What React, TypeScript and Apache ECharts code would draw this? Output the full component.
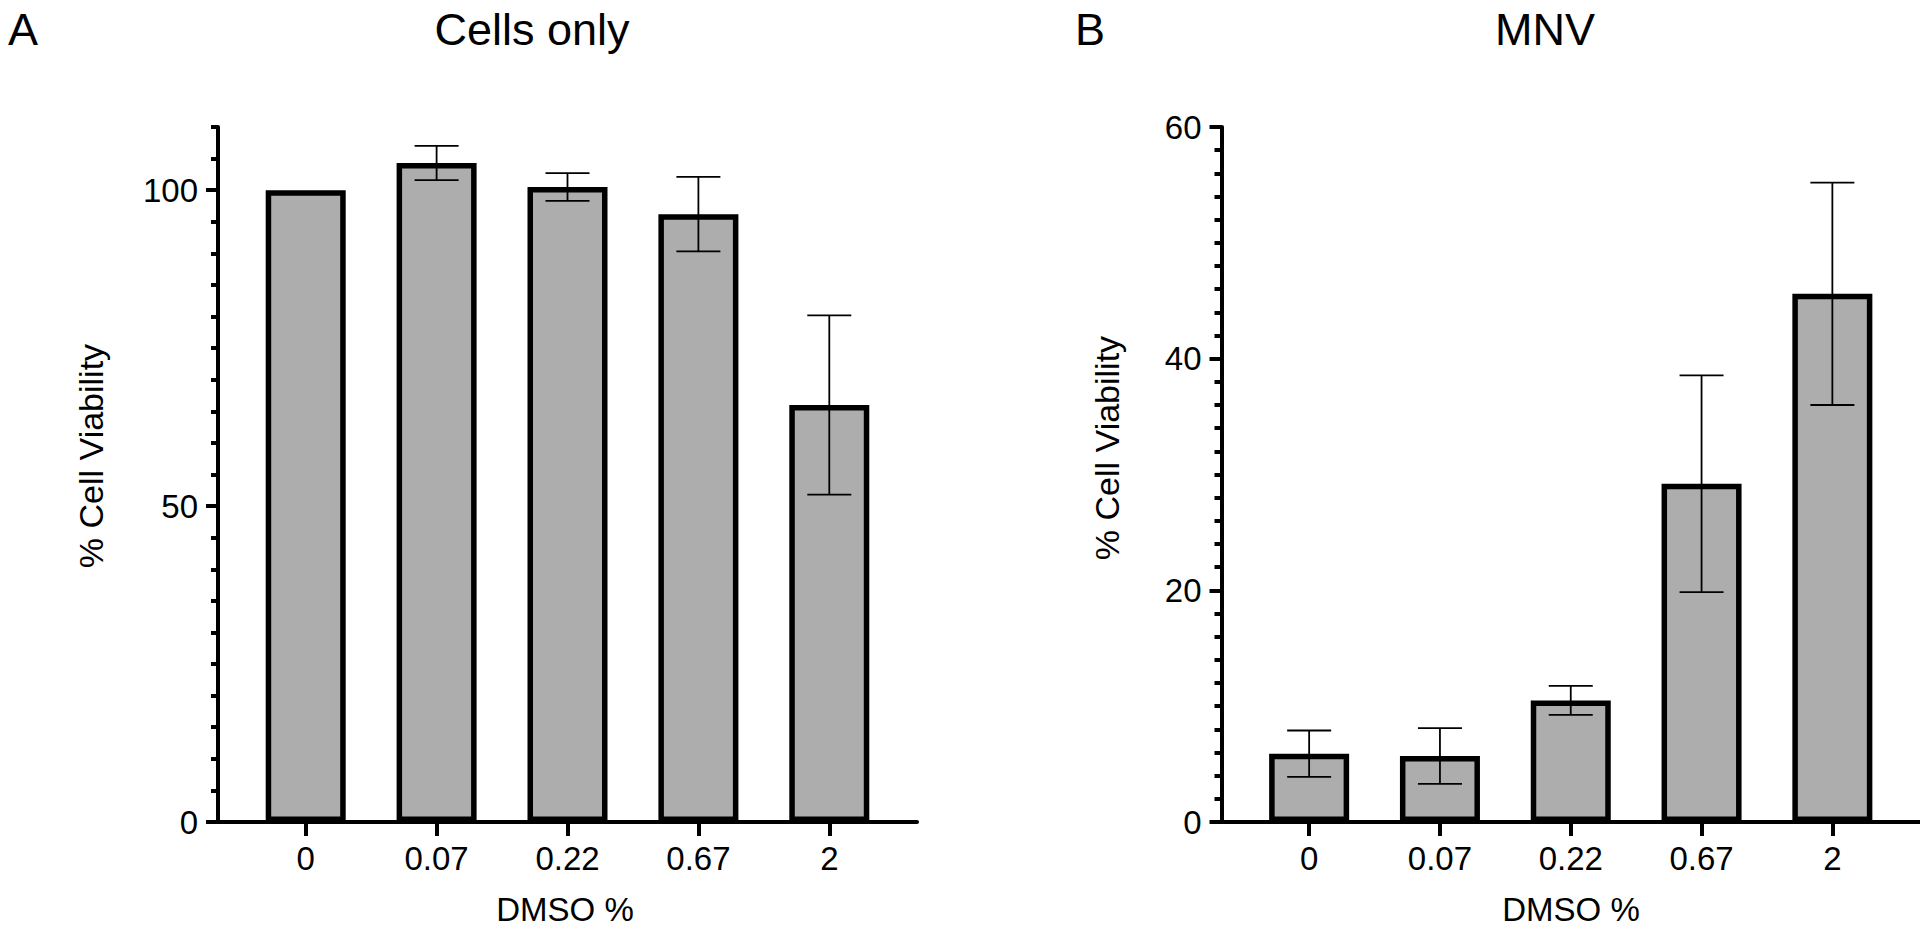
import React, { useEffect, useRef } from "react";
import * as echarts from "echarts";

const categories = ["0", "0.07", "0.22", "0.67", "2"];
const categoryPos = [0, 1, 2, 3, 4];

const cellsOnlyMean = [100, 104.3, 100.5, 96.2, 66.0];
const cellsOnlyErr = [0, 2.7, 2.2, 5.9, 14.2];

const mnvMean = [5.9, 5.7, 10.5, 29.2, 45.6];
const mnvErr = [2.0, 2.4, 1.25, 9.35, 9.6];

const yMajorA = [0, 50, 100];
const yMinorA = [5, 10, 15, 20, 25, 30, 35, 40, 45, 55, 60, 65, 70, 75, 80, 85, 90, 95, 105, 110];
const yMajorB = [0, 20, 40, 60];
const yMinorB = [2, 4, 6, 8, 10, 12, 14, 16, 18, 22, 24, 26, 28, 30, 32, 34, 36, 38, 42, 44, 46, 48, 50, 52, 54, 56, 58];

const FONT = "'Liberation Sans', Arial, Helvetica, sans-serif";
const BAR_FILL = "#adadad";

export default function App() {
  const ref = useRef<HTMLDivElement>(null);

  useEffect(() => {
    if (!ref.current) return;
    const chart = echarts.init(ref.current, null, { renderer: "svg" });

    const grids = [
      { left: 218, width: 699, top: 127, height: 695 },
      { left: 1221.5, width: 698.5, top: 127, height: 695 },
    ];

    const mkX = (gi: number) => ({
      type: "value",
      gridIndex: gi,
      min: -0.67,
      max: 4.67,
      splitLine: { show: false },
      axisLine: { show: true, onZero: false, lineStyle: { color: "#000", width: 4 } },
      axisTick: {
        show: true,
        customValues: categoryPos,
        length: 14,
        lineStyle: { color: "#000", width: 4 },
      },
      axisLabel: {
        customValues: categoryPos,
        formatter: (v: number) => categories[Math.round(v)] ?? "",
        fontFamily: FONT,
        fontSize: 33,
        color: "#000",
        margin: 20,
      },
    });

    const mkYMajor = (gi: number, max: number, majors: number[]) => ({
      type: "value",
      gridIndex: gi,
      min: 0,
      max,
      position: "left",
      splitLine: { show: false },
      axisLine: { show: true, onZero: false, lineStyle: { color: "#000", width: 4 } },
      axisTick: {
        show: true,
        customValues: majors,
        length: 12,
        lineStyle: { color: "#000", width: 4 },
      },
      axisLabel: {
        customValues: majors,
        fontFamily: FONT,
        fontSize: 33,
        color: "#000",
        margin: 20,
      },
    });

    const mkYMinor = (gi: number, max: number, minors: number[]) => ({
      type: "value",
      gridIndex: gi,
      min: 0,
      max,
      position: "left",
      offset: 0,
      splitLine: { show: false },
      axisLine: { show: false, onZero: false },
      axisTick: {
        show: true,
        customValues: minors,
        length: 7,
        lineStyle: { color: "#000", width: 4 },
      },
      axisLabel: { show: false },
    });

    const barData = (means: number[]) => means.map((m, i) => [categoryPos[i], m]);
    const errData = (means: number[], errs: number[]) =>
      means.map((m, i) => [categoryPos[i], m, errs[i]]);

    const renderErr = (params: any, api: any) => {
      const x = api.value(0);
      const m = api.value(1);
      const e = api.value(2);
      if (!e) return { type: "group", children: [] };
      const top = api.coord([x, m + e]);
      const bot = api.coord([x, m - e]);
      const half = 22;
      const st = { stroke: "#000", lineWidth: 1.8 };
      return {
        type: "group",
        children: [
          { type: "line", shape: { x1: top[0], y1: top[1], x2: bot[0], y2: bot[1] }, style: st },
          { type: "line", shape: { x1: top[0] - half, y1: top[1], x2: top[0] + half, y2: top[1] }, style: st },
          { type: "line", shape: { x1: bot[0] - half, y1: bot[1], x2: bot[0] + half, y2: bot[1] }, style: st },
        ],
      };
    };

    const barSeries = (gi: number, yi: number, means: number[]) => ({
      type: "bar",
      xAxisIndex: gi,
      yAxisIndex: yi,
      data: barData(means),
      barWidth: 80,
      itemStyle: { color: BAR_FILL, borderColor: "#000", borderWidth: 5.5 },
      z: 2,
    });

    const errSeries = (gi: number, yi: number, means: number[], errs: number[]) => ({
      type: "custom",
      xAxisIndex: gi,
      yAxisIndex: yi,
      data: errData(means, errs),
      renderItem: renderErr,
      z: 5,
    });

    const txt = (text: string, x: number, y: number, size: number, align: string, rotation = 0) => ({
      type: "text",
      x,
      y,
      rotation,
      style: {
        text,
        fill: "#000",
        font: `${size}px ${FONT}`,
        align,
        verticalAlign: "middle",
      },
    });

    chart.setOption({
      animation: false,
      backgroundColor: "#fff",
      grid: grids,
      xAxis: [mkX(0), mkX(1)],
      yAxis: [
        mkYMajor(0, 110, yMajorA),
        mkYMinor(0, 110, yMinorA),
        mkYMajor(1, 60, yMajorB),
        mkYMinor(1, 60, yMinorB),
      ],
      series: [
        barSeries(0, 0, cellsOnlyMean),
        errSeries(0, 0, cellsOnlyMean, cellsOnlyErr),
        barSeries(1, 2, mnvMean),
        errSeries(1, 2, mnvMean, mnvErr),
      ],
      graphic: [
        txt("A", 8, 29, 45, "left"),
        txt("Cells only", 532, 29, 45, "center"),
        txt("B", 1075, 29, 45, "left"),
        txt("MNV", 1545, 29, 45, "center"),
        txt("% Cell Viability", 91, 456, 34, "center", Math.PI / 2),
        txt("% Cell Viability", 1107, 448, 34, "center", Math.PI / 2),
        txt("DMSO %", 565, 909, 33, "center"),
        txt("DMSO %", 1571, 909, 33, "center"),
      ],
    });

    return () => chart.dispose();
  }, []);

  return (
    <div
      ref={ref}
      style={{ position: "fixed", left: 0, top: 0, width: 1920, height: 931, background: "#fff" }}
    />
  );
}
